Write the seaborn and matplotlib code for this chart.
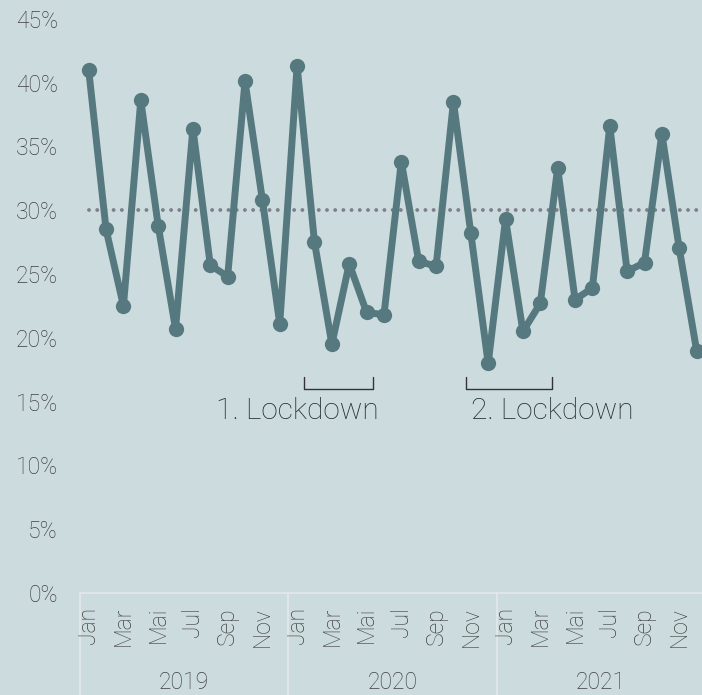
import matplotlib
matplotlib.use("Agg")
import matplotlib.pyplot as plt
import matplotlib.transforms as mtransforms
import seaborn as sns
import pandas as pd

years = ["2019", "2020", "2021"]
months = ["Jan", "Feb", "Mar", "Apr", "Mai", "Jun", "Jul", "Aug", "Sep", "Okt", "Nov", "Dez"]
shown_months = ["Jan", "Mar", "Mai", "Jul", "Sep", "Nov"]
values_2019 = [41.0, 28.5, 22.5, 38.6, 28.8, 20.7, 36.4, 25.7, 24.8, 40.1, 30.8, 21.1]
values_2020 = [41.3, 27.5, 19.5, 25.8, 22.0, 21.8, 33.8, 26.0, 25.6, 38.5, 28.2, 18.0]
values_2021 = [29.3, 20.5, 22.7, 33.3, 23.0, 23.9, 36.6, 25.2, 25.9, 36.0, 27.0, 19.0]
reference_value = 30.0
y_ticks = [0, 5, 10, 15, 20, 25, 30, 35, 40, 45]
lockdown_labels = ["1. Lockdown", "2. Lockdown"]
lockdown_spans = [(12.4, 16.35), (21.75, 26.65)]
lockdown_text_x = [12.03, 26.7]

BG = "#ccdbde"
LINE = "#567980"
TXT = "#404040"
FW = "light"

all_values = values_2019 + values_2020 + values_2021
df = pd.DataFrame({
    "idx": list(range(len(all_values))),
    "value": all_values,
})

sns.set_style("white")
plt.rcParams["font.family"] = ["Roboto", "DejaVu Sans"]

fig = plt.figure(figsize=(7.02, 6.95), dpi=100, facecolor=BG)
ax = fig.add_axes([80 / 702, 102 / 695, 625.3 / 702, 574.2 / 695])
ax.set_facecolor(BG)

ax.hlines(reference_value, 0, len(all_values) - 1, colors="#7f7f8b", lw=2.8,
          linestyles=[(0, (0.01, 2.1))], capstyle="round", zorder=1)

sns.lineplot(data=df, x="idx", y="value", ax=ax, color=LINE, lw=5,
             marker="o", markersize=11, markeredgewidth=0, zorder=3)

ax.set_xlim(-0.5, len(all_values) - 0.5)
ax.set_ylim(0, 45)
for s in ax.spines.values():
    s.set_visible(False)

ax.set_yticks(y_ticks)
ax.set_yticklabels([f"{v}%" for v in y_ticks], fontsize=16.5, color=TXT, fontweight=FW)
tick_pos = []
tick_lab = []
for yi, _ in enumerate(years):
    for mi, m in enumerate(months):
        if m in shown_months:
            tick_pos.append(yi * 12 + mi)
            tick_lab.append(m)
ax.set_xticks(tick_pos)
ax.set_xticklabels(tick_lab, rotation=90, fontsize=16.5, color=TXT, fontweight=FW)
ax.tick_params(axis="both", length=0)
ax.tick_params(axis="y", pad=16)
ax.tick_params(axis="x", pad=10)
ax.set_xlabel("")
ax.set_ylabel("")
ax.grid(False)

trans = mtransforms.blended_transform_factory(ax.transData, ax.transAxes)
sep_col = "#e2e9ea"
ax.plot([-0.5, len(all_values) + 1], [0, 0], transform=trans, color=sep_col, lw=1.2, clip_on=False, zorder=0)
for yi, yr in enumerate(years):
    x0 = yi * 12 - 0.5
    ax.plot([x0, x0], [0, -0.2], transform=trans, color=sep_col, lw=1.2, clip_on=False, zorder=0)
    ax.text(yi * 12 + 5.5, -0.155, yr, transform=trans, ha="center", va="center",
            fontsize=16.5, color=TXT, fontweight=FW)

for lab, (a, b), tx in zip(lockdown_labels, lockdown_spans, lockdown_text_x):
    ax.plot([a, a, b, b], [16.9, 16.0, 16.0, 16.9], color="#333333", lw=1.0, zorder=2)
    ax.text(tx, 14.26, lab, ha="center", va="center", fontsize=21.5, color="#1f2b2d",
            fontweight=FW)

fig.savefig("out.png", dpi=100, facecolor=BG)
